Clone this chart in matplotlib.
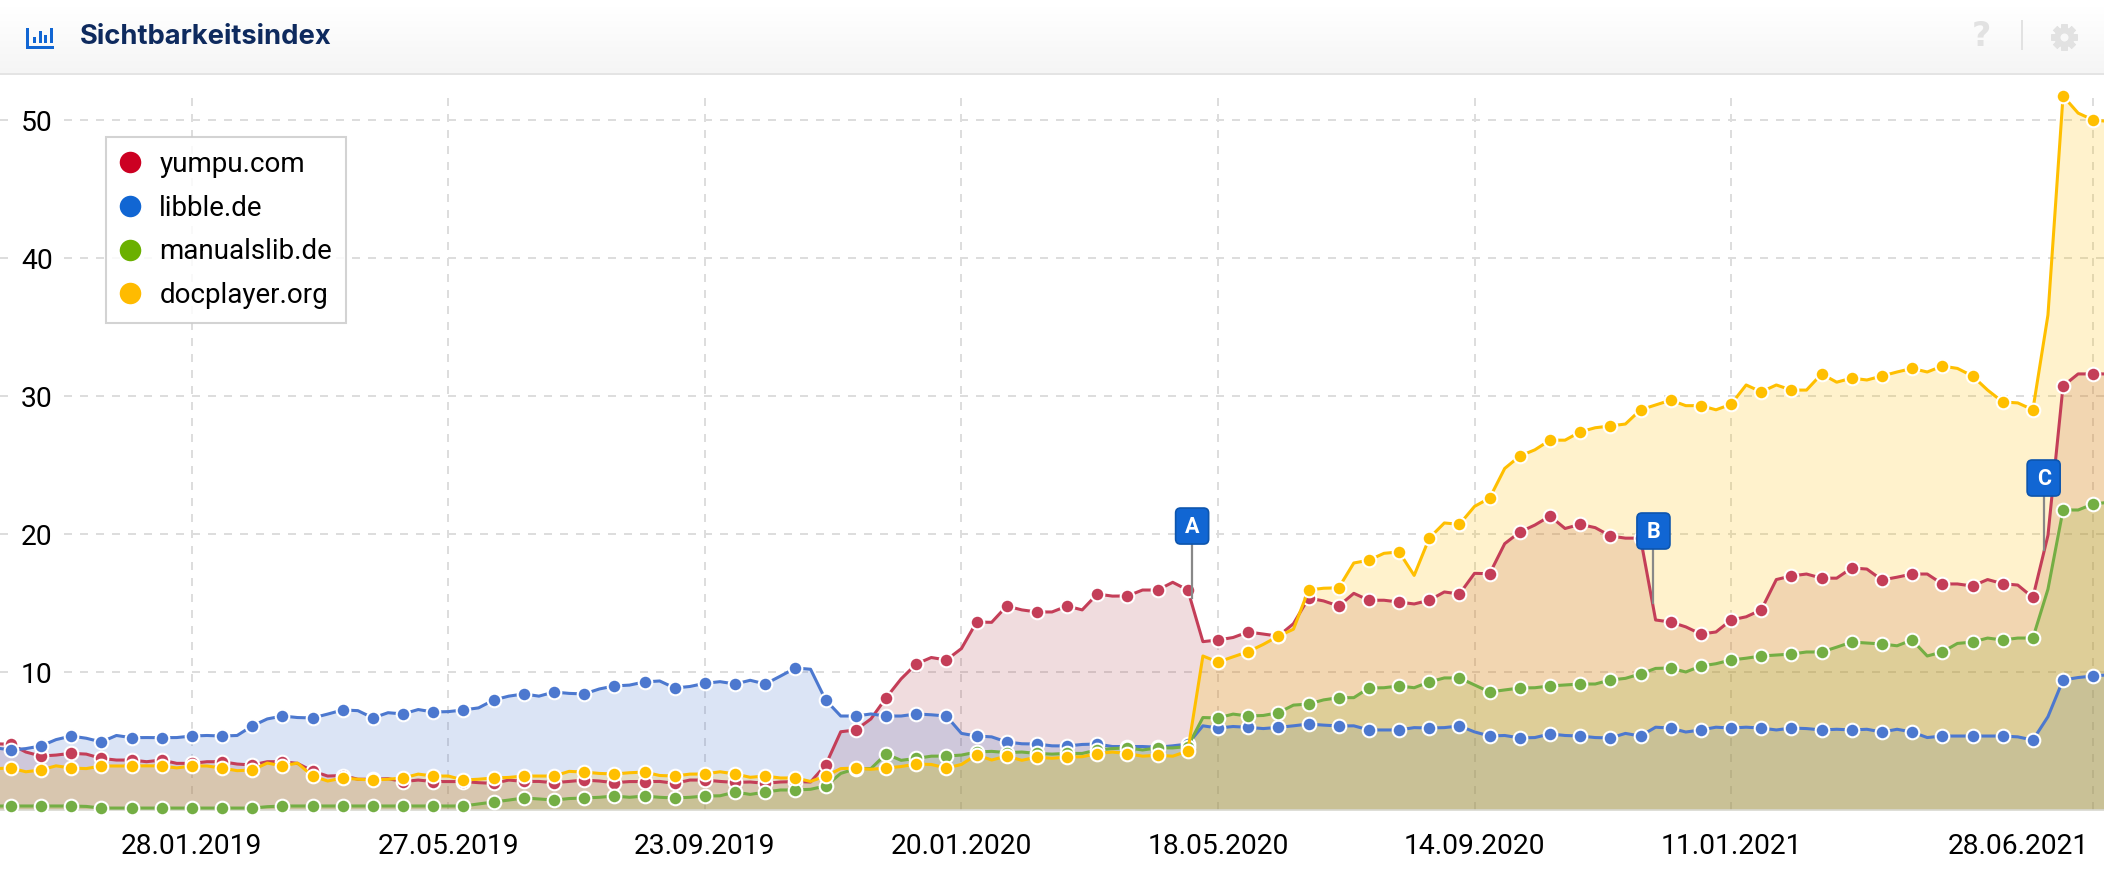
import matplotlib
matplotlib.use("Agg")
import matplotlib.pyplot as plt
import matplotlib.dates as mdates
import numpy as np
import pandas as pd
from matplotlib.lines import Line2D
from matplotlib.patches import FancyBboxPatch, Rectangle
from matplotlib.transforms import IdentityTransform, ScaledTranslation

W, H = 2104, 876
DPI = 100

# weekly values, first point 29.10.2018
dates = pd.date_range("2018-10-29", periods=141, freq="7D")

yumpu = [
    4.8, 4.76, 4.2, 3.91, 3.98, 4.11, 4.05, 3.74, 3.62, 3.62,
    3.5, 3.62, 3.38, 3.38, 3.5, 3.5, 3.33, 3.26, 3.5, 3.5,
    3.38, 2.82, 2.46, 2.5, 2.23, 2.23, 2.27, 2.06, 2.17, 2.06,
    2.06, 2.06, 1.98, 1.93, 2.17, 2.07, 2.07, 1.98, 2.07, 2.17,
    2.1, 1.98, 2.06, 2.06, 2.07, 1.93, 2.17, 2.17, 2.07, 2.0,
    2.03, 1.93, 2.03, 2.06, 2.03, 3.26, 5.67, 5.8, 6.6, 8.12,
    9.5, 10.58, 11.05, 10.87, 11.7, 13.62, 13.6, 14.78, 14.5, 14.35,
    14.35, 14.78, 14.5, 15.65, 15.5, 15.51, 15.94, 15.94, 16.5, 15.94,
    12.2, 12.32, 12.5, 12.9, 12.75, 12.6, 13.5, 15.36, 15.15, 14.78,
    15.7, 15.2, 15.2, 15.07, 14.93, 15.2, 15.8, 15.65, 17.15, 17.12,
    19.3, 20.14, 20.65, 21.3, 20.4, 20.7, 20.46, 19.86, 19.7, 19.7,
    13.77, 13.62, 13.27, 12.75, 12.9, 13.77, 14.0, 14.5, 16.7, 16.96,
    17.1, 16.8, 16.8, 17.54, 17.46, 16.67, 16.87, 17.1, 17.1, 16.38,
    16.38, 16.23, 16.7, 16.4, 16.3, 15.4, 19.9, 30.72, 31.6, 31.6,
    31.6,
]
libble = [
    4.5, 4.35, 4.45, 4.64, 5.1, 5.36, 5.2, 4.93, 5.4, 5.24,
    5.25, 5.24, 5.25, 5.36, 5.4, 5.36, 5.4, 6.09, 6.6, 6.81,
    6.7, 6.67, 6.95, 7.25, 7.2, 6.67, 7.05, 6.96, 7.28, 7.1,
    7.13, 7.25, 7.4, 7.97, 8.25, 8.41, 8.25, 8.55, 8.45, 8.41,
    8.77, 8.99, 9.05, 9.28, 9.35, 8.84, 8.95, 9.18, 9.3, 9.13,
    9.4, 9.13, 9.7, 10.29, 10.2, 7.97, 6.81, 6.81, 6.96, 6.81,
    6.81, 6.96, 6.9, 6.81, 5.55, 5.36, 5.3, 4.93, 4.8, 4.78,
    4.65, 4.64, 4.75, 4.78, 4.6, 4.6, 4.6, 4.55, 4.65, 4.78,
    6.1, 5.94, 6.05, 5.99, 5.9, 5.99, 6.1, 6.23, 6.15, 6.09,
    6.1, 5.8, 5.8, 5.8, 5.97, 5.94, 5.97, 6.09, 5.66, 5.36,
    5.4, 5.22, 5.25, 5.51, 5.4, 5.36, 5.25, 5.22, 5.55, 5.36,
    6.0, 5.94, 5.65, 5.8, 6.0, 5.94, 6.0, 5.94, 5.8, 5.94,
    5.9, 5.8, 5.85, 5.8, 5.85, 5.65, 5.85, 5.65, 5.25, 5.36,
    5.36, 5.36, 5.36, 5.36, 5.3, 5.07, 6.76, 9.42, 9.6, 9.71,
    9.8,
]
manualslib = [
    0.29, 0.29, 0.29, 0.29, 0.29, 0.29, 0.26, 0.14, 0.14, 0.14,
    0.14, 0.14, 0.14, 0.14, 0.14, 0.14, 0.14, 0.14, 0.24, 0.29,
    0.29, 0.29, 0.29, 0.29, 0.29, 0.29, 0.29, 0.29, 0.29, 0.29,
    0.29, 0.29, 0.44, 0.58, 0.72, 0.87, 0.8, 0.72, 0.83, 0.87,
    0.92, 1.01, 0.92, 1.01, 0.92, 0.87, 0.92, 1.01, 1.03, 1.3,
    1.13, 1.3, 1.45, 1.45, 1.5, 1.74, 2.65, 3.0, 3.0, 4.06,
    3.6, 3.74, 3.9, 3.91, 3.98, 4.2, 4.25, 4.16, 4.2, 4.1,
    4.05, 4.1, 4.1, 4.35, 4.45, 4.5, 4.35, 4.5, 4.5, 4.6,
    6.7, 6.67, 6.95, 6.81, 6.85, 7.05, 7.6, 7.68, 7.98, 8.14,
    8.14, 8.84, 8.86, 8.99, 8.86, 9.28, 9.57, 9.57, 9.06, 8.55,
    8.7, 8.84, 8.86, 8.99, 9.06, 9.13, 9.13, 9.42, 9.54, 9.86,
    10.26, 10.29, 10.0, 10.43, 10.6, 10.87, 11.0, 11.16, 11.23, 11.3,
    11.45, 11.45, 11.8, 12.17, 12.1, 12.03, 11.9, 12.32, 11.16, 11.45,
    12.07, 12.17, 12.46, 12.32, 12.46, 12.46, 16.0, 21.74, 21.74, 22.17,
    22.3,
]
docplayer = [
    3.0, 3.04, 2.77, 2.9, 3.2, 3.04, 3.0, 3.19, 3.19, 3.19,
    3.2, 3.19, 3.05, 3.19, 3.19, 3.04, 2.85, 2.9, 3.4, 3.19,
    3.4, 2.46, 2.1, 2.32, 2.23, 2.17, 2.23, 2.32, 2.6, 2.46,
    2.46, 2.17, 2.23, 2.32, 2.36, 2.46, 2.46, 2.46, 2.8, 2.75,
    2.65, 2.61, 2.7, 2.75, 2.5, 2.46, 2.6, 2.61, 2.77, 2.61,
    2.37, 2.46, 2.32, 2.32, 2.07, 2.46, 3.0, 3.04, 2.95, 3.04,
    3.15, 3.33, 3.3, 3.04, 3.3, 4.0, 3.62, 3.91, 3.6, 3.83,
    3.75, 3.83, 3.86, 4.09, 4.2, 4.09, 3.9, 3.97, 3.9, 4.27,
    11.16, 10.72, 11.1, 11.47, 12.0, 12.6, 13.1, 15.94, 16.07, 16.1,
    17.9, 18.1, 18.6, 18.7, 17.0, 19.7, 20.8, 20.7, 22.0, 22.6,
    24.75, 25.65, 26.1, 26.8, 26.8, 27.4, 27.7, 27.83, 27.97, 29.0,
    29.35, 29.7, 29.3, 29.3, 29.0, 29.4, 30.8, 30.3, 30.8, 30.43,
    30.43, 31.6, 31.0, 31.3, 31.16, 31.45, 31.74, 32.0, 31.74, 32.17,
    32.0, 31.45, 30.43, 29.57, 29.5, 29.0, 35.87, 51.74, 50.5, 50.0,
    49.9,
]

names = ["yumpu.com", "libble.de", "manualslib.de", "docplayer.org"]
series = [yumpu, libble, manualslib, docplayer]
line_colors = ["#c43e58", "#4c78cf", "#74ae44", "#ffbf00"]
fill_colors = ["#b4505a", "#4c78cf", "#74ae44", "#ffbf00"]
legend_colors = ["#cc0022", "#1166d3", "#6bb000", "#ffbb00"]

x_tick_dates = ["2019-01-28", "2019-05-27", "2019-09-23", "2020-01-20",
                "2020-05-18", "2020-09-14", "2021-01-11", "2021-06-28"]
x_tick_labels = ["28.01.2019", "27.05.2019", "23.09.2019", "20.01.2020",
                 "18.05.2020", "14.09.2020", "11.01.2021", "28.06.2021"]
y_ticks = [10, 20, 30, 40, 50]

flags = [("A", "2020-05-06", 15.36), ("B", "2020-12-06", 15.0), ("C", "2021-06-05", 18.84)]

plt.rcParams["font.family"] = ["Roboto", "DejaVu Sans"]

fig = plt.figure(figsize=(W / DPI, H / DPI), dpi=DPI, facecolor="white")

#%% chart
ax = fig.add_axes([0, (H - 810) / H, 1, (810 - 96) / H])
grid_style = dict(color="#dddddd", lw=1.44, linestyle=(0, (4, 4)))
ax.set_axisbelow(True)
ax.grid(True, **grid_style)

for values, color in zip(series, fill_colors):
    ax.fill_between(dates, 0, values, color=color, alpha=0.2, lw=0, zorder=1)
for i, (values, color) in enumerate(zip(series, line_colors)):
    ax.plot(dates, values, color=color, lw=2.2, marker="o", ms=9.8, mfc=color,
            mec="white", mew=1.5, markevery=(1, 2), zorder=3 + i, clip_on=False)

ax.set_xlim(pd.Timestamp("2018-10-31"), pd.Timestamp("2021-07-03"))
ax.set_ylim(0, 51.74)
ax.set_xticks(pd.to_datetime(x_tick_dates))
ax.set_xticklabels(x_tick_labels)
ax.set_yticks(y_ticks)
ax.tick_params(axis="x", length=0, pad=16.5, labelsize=20.3, labelcolor="black")
ax.tick_params(axis="y", length=0, pad=-38, labelsize=20.3, labelcolor="black")
for spine in ["top", "left", "right"]:
    ax.spines[spine].set_visible(False)
ax.spines["bottom"].set_color("#d8d8d0")
ax.spines["bottom"].set_linewidth(1.2)

for label in ax.get_yticklabels():
    label.set_bbox(dict(fc="white", ec="none", pad=4))
last = ax.get_xticklabels()[-1]
last.set_ha("right")
last.set_transform(last.get_transform() + ScaledTranslation(-4 / DPI, 0, fig.dpi_scale_trans))

handles = [Line2D([], [], ls="none", marker="o", ms=15.5, mfc=c, mec=c, mew=0) for c in legend_colors]
leg = ax.legend(handles, names, loc="upper left", bbox_to_anchor=(106 / W, (H - 137) / H),
                bbox_transform=fig.transFigure, borderaxespad=0, fontsize=20, fancybox=False,
                edgecolor="#cccccc", framealpha=0.85, handlelength=0.7, handletextpad=0.72,
                labelspacing=0.6, borderpad=0.5)
leg.get_frame().set_linewidth(1.5)
leg.set_zorder(20)

# flags sit a fixed distance above the point they mark
for letter, day, value in flags:
    tip_x, tip_y = ax.transData.transform((mdates.date2num(pd.Timestamp(day)), value))
    fig.add_artist(Line2D([tip_x, tip_x], [tip_y, tip_y + 56], color="#888888", lw=1.6,
                          transform=IdentityTransform(), zorder=30))
    fig.add_artist(FancyBboxPatch((tip_x - 16.5, tip_y + 54), 33, 36,
                                  boxstyle="round,pad=0,rounding_size=5", fc="#1166d3", ec="#0d55ad",
                                  lw=1.2, transform=IdentityTransform(), zorder=31))
    fig.text(tip_x / W, (tip_y + 71.5) / H, letter, color="white", fontsize=15.5, fontweight="bold",
             ha="center", va="center", zorder=32)

#%% header strip
head = fig.add_axes([0, (H - 75) / H, 1, 75 / H])
head.imshow(np.linspace(255, 244, 75).reshape(-1, 1), cmap="gray", vmin=0, vmax=255,
            aspect="auto", extent=(0, W, 75, 0))
head.set_xlim(0, W)
head.set_ylim(75, 0)
head.set_axis_off()
head.add_patch(Rectangle((0, 73), W, 2, fc="#e4e4e4", ec="none"))

icon = "#1166d3"
head.add_patch(Rectangle((26, 28), 3, 21, fc=icon, ec="none"))
head.add_patch(Rectangle((26, 46), 28, 3, fc=icon, ec="none"))
for bar_x, bar_top in zip([33, 38.6, 44.2, 49.8], [37, 31, 35, 28]):
    head.add_patch(Rectangle((bar_x, bar_top), 3, 42.5 - bar_top, fc=icon, ec="none"))

head.text(80, 37, "Sichtbarkeitsindex", family="Inter", fontweight="bold", fontsize=19.7,
          color="#0e2a5e", va="center", ha="left")
head.text(1981, 37, "?", family="DejaVu Sans", fontweight="bold", fontsize=24, color="#e2e2e2",
          va="center", ha="center")
head.add_patch(Rectangle((2021, 20), 2, 30, fc="#e2e2e2", ec="none"))
# gear drawn from markers: teeth, body, hole
head.plot([2064], [37], marker=(8, 2, 0), ms=19, mew=4.5, color="#e2e2e2")
head.plot([2064], [37], marker="o", ms=14.5, mew=0, color="#e2e2e2")
head.plot([2064], [37], marker="o", ms=5.8, mew=0, color="#f8f8f8")

fig.savefig("out.png", dpi=DPI)
